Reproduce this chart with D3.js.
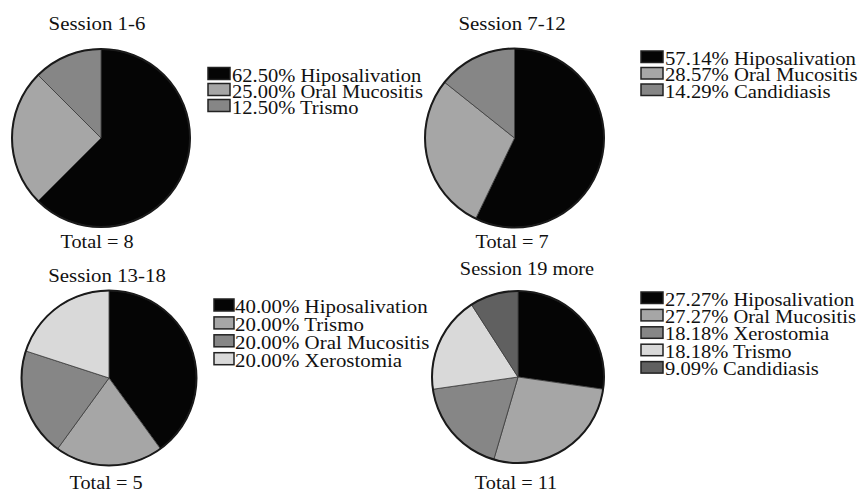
<!DOCTYPE html>
<html>
<head>
<meta charset="utf-8">
<script src="https://cdn.jsdelivr.net/npm/d3@7"></script>
<style>
  html, body { margin: 0; padding: 0; background: #fff; }
  svg { display: block; }
</style>
</head>
<body>
<svg id="chart" width="859" height="492"></svg>
<script>
// Complications reported per radiotherapy session block (counts of patients)
const sessionTitles = ["Session 1-6", "Session 7-12", "Session 13-18", "Session 19 more"];
const totals = [8, 7, 5, 11];

const categories1 = ["Hiposalivation", "Oral Mucositis", "Trismo"];
const counts1 = [5, 2, 1];

const categories2 = ["Hiposalivation", "Oral Mucositis", "Candidiasis"];
const counts2 = [4, 2, 1];

const categories3 = ["Hiposalivation", "Trismo", "Oral Mucositis", "Xerostomia"];
const counts3 = [2, 1, 1, 1];

const categories4 = ["Hiposalivation", "Oral Mucositis", "Xerostomia", "Trismo", "Candidiasis"];
const counts4 = [3, 3, 2, 2, 1];

// Slice shades by position within each pie
const shades = ["#050505", "#a6a6a6", "#868686", "#d9d9d9", "#606060"];

const FONT = '"Liberation Serif", "Times New Roman", Tinos, Times, serif';

// Panel layout: pie centre/radius, title, total and legend placement
const panels = [
  { cats: categories1, vals: counts1, cx: 101, cy: 138, r: 89,
    titleX: 97, titleY: 30, totalX: 97, totalY: 248, titleSize: 19.5,
    legX: 208, legY: 81.5, legStep: 16, swW: 22, swH: 12, textX: 232, legSize: 18.5, legSx: 1.11 },
  { cats: categories2, vals: counts2, cx: 514.5, cy: 138, r: 89.5,
    titleX: 512, titleY: 30, totalX: 512, totalY: 248, titleSize: 19.5,
    legX: 641, legY: 64.5, legStep: 16.5, swW: 22, swH: 11.5, textX: 665, legSize: 18.5, legSx: 1.12 },
  { cats: categories3, vals: counts3, cx: 109, cy: 378, r: 87.5,
    titleX: 107, titleY: 282, totalX: 106, totalY: 489, titleSize: 19.5,
    legX: 214, legY: 313, legStep: 17.9, swW: 20, swH: 12, textX: 235, legSize: 18.5, legSx: 1.13 },
  { cats: categories4, vals: counts4, cx: 518, cy: 377, r: 86,
    titleX: 527, titleY: 275, totalX: 516, totalY: 489, titleSize: 19,
    legX: 641, legY: 305.5, legStep: 17.4, swW: 22, swH: 11.5, textX: 665, legSize: 18, legSx: 1.14 }
];

const svg = d3.select("#chart");
const pie = d3.pie().sort(null).value(d => d);
const color = d3.scaleOrdinal().domain(d3.range(shades.length)).range(shades);

panels.forEach((p, i) => {
  const g = svg.append("g");
  const total = totals[i];
  const arc = d3.arc().innerRadius(0).outerRadius(p.r);

  // Title above the pie
  g.append("text")
    .attr("transform", `translate(${p.titleX},${p.titleY}) scale(1.07,1)`)
    .attr("text-anchor", "middle")
    .style("font-family", FONT)
    .style("font-size", p.titleSize + "px")
    .style("fill", "#111")
    .text(sessionTitles[i]);

  // Pie slices
  const pg = g.append("g").attr("transform", `translate(${p.cx},${p.cy})`);
  pg.selectAll("path.slice")
    .data(pie(p.vals))
    .join("path")
    .attr("class", "slice")
    .attr("d", arc)
    .attr("fill", (d, k) => color(k))
    .attr("stroke", "#3a3a3a")
    .attr("stroke-width", 0.8);
  pg.append("circle")
    .attr("r", p.r)
    .attr("fill", "none")
    .attr("stroke", "#1a1a1a")
    .attr("stroke-width", 2);

  // Total below the pie
  g.append("text")
    .attr("transform", `translate(${p.totalX},${p.totalY}) scale(1.04,1)`)
    .attr("text-anchor", "middle")
    .style("font-family", FONT)
    .style("font-size", "19.5px")
    .style("fill", "#111")
    .text(`Total = ${total}`);

  // Legend: swatch + percentage + category
  const leg = g.selectAll("g.leg")
    .data(p.cats.map((c, k) => ({ c, v: p.vals[k], k })))
    .join("g")
    .attr("class", "leg");
  leg.append("rect")
    .attr("x", p.legX)
    .attr("y", d => p.legY + d.k * p.legStep - p.swH - 2)
    .attr("width", p.swW)
    .attr("height", p.swH)
    .attr("fill", d => color(d.k))
    .attr("stroke", "#222")
    .attr("stroke-width", 1.5);
  leg.append("text")
    .attr("transform", d => `translate(${p.textX},${p.legY + d.k * p.legStep}) scale(${p.legSx},1)`)
    .style("font-family", FONT)
    .style("font-size", p.legSize + "px")
    .style("fill", "#111")
    .text(d => `${(d.v / total * 100).toFixed(2)}% ${d.c}`);
});
</script>
</body>
</html>
